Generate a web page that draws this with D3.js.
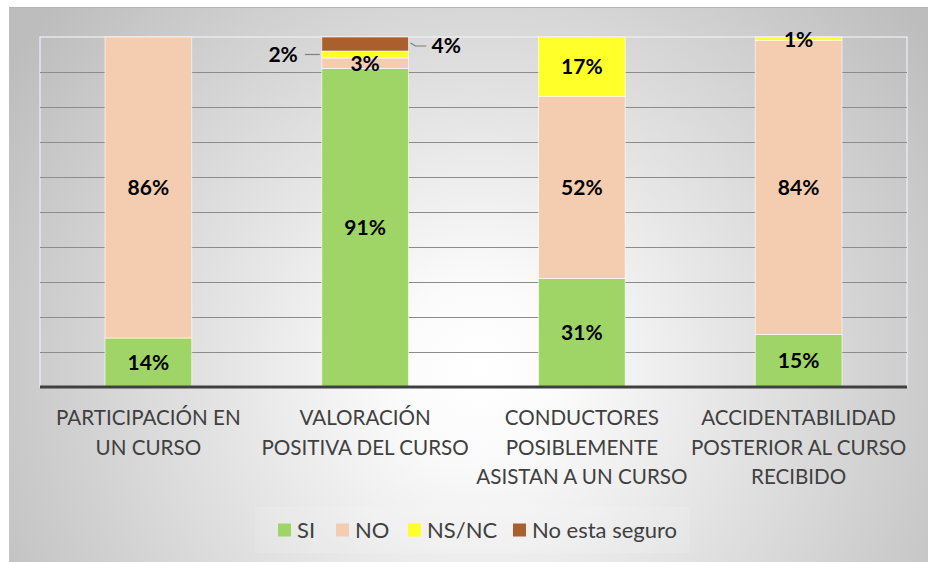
<!DOCTYPE html>
<html>
<head>
<meta charset="utf-8">
<script src="https://cdn.jsdelivr.net/npm/d3@7"></script>
<style>
  body { margin: 0; background: #fff; }
  svg { display: block; }
  text { font-family: Lato, "Open Sans", sans-serif; }
</style>
</head>
<body>
<div id="chart"></div>
<script>
// data
const categories = [
  'PARTICIPACIÓN EN|UN CURSO',
  'VALORACIÓN|POSITIVA DEL CURSO',
  'CONDUCTORES|POSIBLEMENTE|ASISTAN A UN CURSO',
  'ACCIDENTABILIDAD|POSTERIOR AL CURSO|RECIBIDO'
];
const seriesNames = ['SI', 'NO', 'NS/NC', 'No esta seguro'];
const siValues = [14, 91, 31, 15];
const noValues = [86, 3, 52, 84];
const nsncValues = [0, 2, 17, 1];
const noSeguroValues = [0, 4, 0, 0];
const colours = ['#9fd567', '#f4cdb1', '#ffff2a', '#a95f2e'];

const W = 928, H = 562;
const plot = { left: 40, right: 907, top: 37, bottom: 387 };

// build stack table
const table = categories.map((c, i) => ({
  cat: c,
  'SI': siValues[i],
  'NO': noValues[i],
  'NS/NC': nsncValues[i],
  'No esta seguro': noSeguroValues[i]
}));
const stacked = d3.stack().keys(seriesNames)(table);

const svg = d3.select('#chart').append('svg')
  .attr('width', W).attr('height', H);

// background gradient
const defs = svg.append('defs');
const grad = defs.append('radialGradient')
  .attr('id', 'bg')
  .attr('gradientUnits', 'userSpaceOnUse')
  .attr('cx', 480).attr('cy', 370).attr('r', 560);
grad.append('stop').attr('offset', '0%').attr('stop-color', '#ffffff');
grad.append('stop').attr('offset', '15%').attr('stop-color', '#fbfbfb');
grad.append('stop').attr('offset', '100%').attr('stop-color', '#bdbdbd');

svg.append('rect')
  .attr('x', 9).attr('y', 7)
  .attr('width', W - 9).attr('height', H - 7)
  .attr('fill', 'url(#bg)');
svg.append('line')
  .attr('x1', 9).attr('x2', W).attr('y1', 7.5).attr('y2', 7.5)
  .attr('stroke', '#b5b5b5').attr('stroke-width', 1);

// scales
const x = d3.scaleBand()
  .domain(categories)
  .range([plot.left, plot.right])
  .paddingInner(0.6)
  .paddingOuter(0.3);
const y = d3.scaleLinear()
  .domain([0, 100])
  .range([plot.bottom, plot.top]);

// plot area border
svg.append('rect')
  .attr('x', plot.left).attr('y', plot.top)
  .attr('width', plot.right - plot.left).attr('height', plot.bottom - plot.top)
  .attr('fill', 'none')
  .attr('stroke', '#eef1f8').attr('stroke-width', 1.2);

// gridlines
svg.append('g')
  .selectAll('line')
  .data(d3.range(10, 100, 10))
  .join('line')
  .attr('x1', plot.left).attr('x2', plot.right)
  .attr('y1', d => Math.round(y(d)) + 0.5).attr('y2', d => Math.round(y(d)) + 0.5)
  .attr('stroke', '#8c8c8c').attr('stroke-width', 1);

// bars
const layers = svg.append('g')
  .selectAll('g')
  .data(stacked)
  .join('g')
  .attr('fill', (d, i) => colours[i]);

layers.selectAll('rect')
  .data(d => d)
  .join('rect')
  .attr('x', d => x(d.data.cat))
  .attr('width', x.bandwidth())
  .attr('y', d => y(d[1]))
  .attr('height', d => y(d[0]) - y(d[1]))
  .attr('stroke', '#ffffff')
  .attr('stroke-opacity', 0.6)
  .attr('stroke-width', 1);

// bottom axis
const xAxis = svg.append('g')
  .attr('transform', `translate(0,${plot.bottom})`)
  .call(d3.axisBottom(x).tickSize(0).tickFormat(''));
xAxis.select('.domain')
  .attr('stroke', '#404040').attr('stroke-width', 3)
  .attr('d', `M${plot.left},0H${plot.right}`);

// category labels
categories.forEach(c => {
  const lines = c.split('|');
  const t = svg.append('text')
    .attr('x', x(c) + x.bandwidth() / 2)
    .attr('y', 425)
    .attr('text-anchor', 'middle')
    .attr('fill', '#404040')
    .attr('font-size', 20.6);
  lines.forEach((l, i) => {
    t.append('tspan')
      .attr('x', x(c) + x.bandwidth() / 2)
      .attr('dy', i === 0 ? 0 : 29.5)
      .text(l);
  });
});

// data labels
const labelStyle = sel => sel
  .attr('font-size', 21)
  .attr('font-weight', 'bold')
  .attr('fill', '#000');

stacked.forEach((layer, si) => {
  layer.forEach((d, ci) => {
    const v = d[1] - d[0];
    if (v <= 0) return;
    const cx = x(d.data.cat) + x.bandwidth() / 2;
    let lx = cx, ly = (y(d[0]) + y(d[1])) / 2 + 7.5, anchor = 'middle';
    const name = seriesNames[si];
    if (ci === 1 && name === 'NS/NC') {
      // leader to the left
      lx = x(d.data.cat) - 24; ly = y((d[0] + d[1]) / 2) + 7; anchor = 'end';
      svg.append('line')
        .attr('x1', x(d.data.cat) - 17).attr('x2', x(d.data.cat) - 2)
        .attr('y1', y((d[0] + d[1]) / 2)).attr('y2', y((d[0] + d[1]) / 2))
        .attr('stroke', '#7f7f7f').attr('stroke-width', 1.2);
    } else if (ci === 1 && name === 'No esta seguro') {
      lx = x(d.data.cat) + x.bandwidth() + 23; ly = y((d[0] + d[1]) / 2) + 9; anchor = 'start';
      const yy = y((d[0] + d[1]) / 2);
      svg.append('path')
        .attr('d', `M${x(d.data.cat) + x.bandwidth() + 2},${yy - 1}L${x(d.data.cat) + x.bandwidth() + 7},${yy + 2}H${x(d.data.cat) + x.bandwidth() + 18}`)
        .attr('fill', 'none')
        .attr('stroke', '#7f7f7f').attr('stroke-width', 1.2);
    } else if (ci === 1 && name === 'NO') {
      ly = y(d[1]) + 13;
    } else if (ci === 3 && name === 'NS/NC') {
      ly = y(d[1]) + 10;
    }
    svg.append('text')
      .attr('x', lx).attr('y', ly)
      .attr('text-anchor', anchor)
      .call(labelStyle)
      .text(v + '%');
  });
});

// legend
svg.append('rect')
  .attr('x', 255).attr('y', 507)
  .attr('width', 435).attr('height', 46)
  .attr('fill', '#ffffff').attr('fill-opacity', 0.12);

const legendX = [278, 336, 408, 513];
const legend = svg.append('g')
  .selectAll('g')
  .data(seriesNames)
  .join('g')
  .attr('transform', (d, i) => `translate(${legendX[i]},530)`);
legend.append('rect')
  .attr('x', 0).attr('y', -6.5)
  .attr('width', 13).attr('height', 13)
  .attr('fill', (d, i) => colours[i]);
legend.append('text')
  .attr('x', 19).attr('y', 8)
  .attr('font-size', 22)
  .attr('fill', '#404040')
  .text(d => d);
</script>
</body>
</html>
